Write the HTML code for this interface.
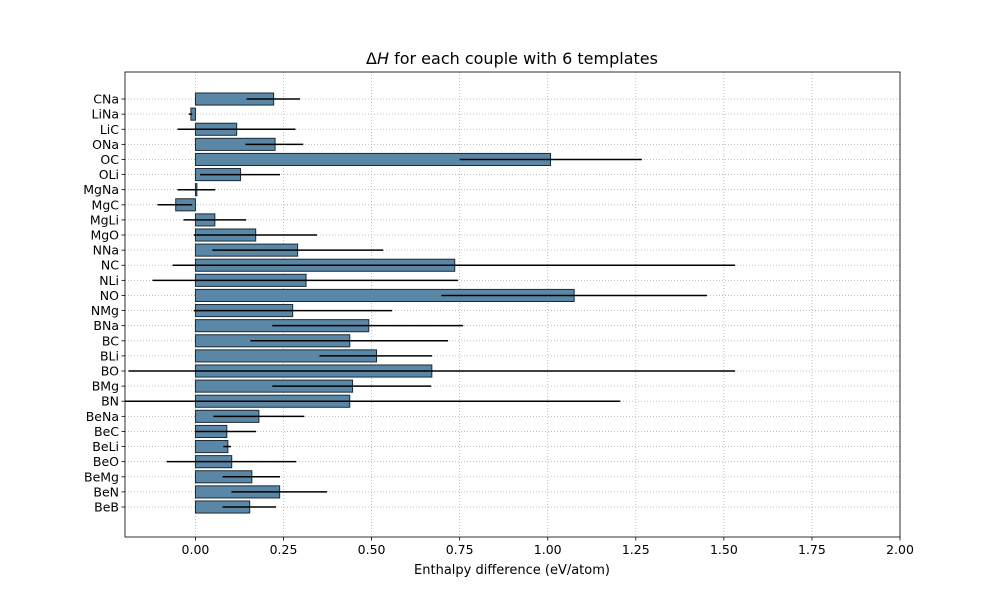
<!DOCTYPE html>
<html><head><meta charset="utf-8"><style>
body{margin:0;background:#fff;font-family:"Liberation Sans","DejaVu Sans",sans-serif;}
svg text{font-family:"DejaVu Sans","Liberation Sans",sans-serif;}
</style></head><body>
<svg id="chart" width="1000" height="600" xmlns="http://www.w3.org/2000/svg">
<rect width="1000" height="600" fill="#fff"/>
<g id="grid"></g>
<g id="bars"></g>
<g id="errs"></g>
<g id="axes"></g>
<text x="512" y="64" font-size="16" text-anchor="middle">Δ<tspan font-style="italic">H</tspan> for each couple with 6 templates</text>
<text x="512" y="574" font-size="13" text-anchor="middle">Enthalpy difference (eV/atom)</text>
</svg>
<script>
const categories=["BeB","BeN","BeMg","BeO","BeLi","BeC","BeNa","BN","BMg","BO","BLi","BC","BNa","NMg","NO","NLi","NC","NNa","MgO","MgLi","MgC","MgNa","OLi","OC","ONa","LiC","LiNa","CNa"];
const values=[0.154,0.239,0.160,0.103,0.092,0.089,0.180,0.438,0.446,0.671,0.514,0.438,0.492,0.276,1.075,0.314,0.736,0.290,0.171,0.055,-0.056,0.004,0.128,1.008,0.226,0.117,-0.013,0.222];
const errLow=[0.077,0.102,0.077,-0.082,0.079,0.000,0.051,-0.207,0.218,-0.190,0.352,0.156,0.218,-0.005,0.698,-0.122,-0.065,0.048,-0.005,-0.034,-0.108,-0.051,0.013,0.750,0.142,-0.051,-0.019,0.145];
const errHigh=[0.229,0.374,0.240,0.286,0.101,0.172,0.309,1.206,0.669,1.532,0.672,0.717,0.760,0.558,1.452,0.745,1.532,0.533,0.345,0.144,-0.009,0.056,0.240,1.267,0.306,0.284,-0.009,0.297];
const xTicks=[0,0.25,0.5,0.75,1.0,1.25,1.5,1.75,2.0];
const xTickLabels=["0.00","0.25","0.50","0.75","1.00","1.25","1.50","1.75","2.00"];
const NS="http://www.w3.org/2000/svg";
const L=125,R=900,T=72,B=537,XMIN=-0.2,XMAX=2.0;
const xs=v=>L+(v-XMIN)/(XMAX-XMIN)*(R-L);
const step=15.11;
const ys=i=>507-step*i;
function mk(p,tag,a){const e=document.createElementNS(NS,tag);for(const k in a)e.setAttribute(k,a[k]);p.appendChild(e);return e;}
const grid=document.getElementById('grid'),bars=document.getElementById('bars'),errs=document.getElementById('errs'),axes=document.getElementById('axes');
xTicks.forEach((t,i)=>{const x=xs(t);
 const g=mk(grid,'line',{x1:x,x2:x,y1:T,y2:B,stroke:'#b0b0b0','stroke-width':0.8,'stroke-dasharray':'1,2'});
 
 mk(axes,'line',{x1:x,x2:x,y1:B,y2:B+3.5,stroke:'#000','stroke-width':0.8});
 const tx=mk(axes,'text',{x:x,y:B+17,'font-size':12.5,'text-anchor':'middle'});tx.textContent=xTickLabels[i];
 
});
categories.forEach((c,i)=>{const y=ys(i);
 const g=mk(grid,'line',{x1:L,x2:R,y1:y,y2:y,stroke:'#b0b0b0','stroke-width':0.8,'stroke-dasharray':'1,2'});
 
 mk(axes,'line',{x1:L-3.5,x2:L,y1:y,y2:y,stroke:'#000','stroke-width':0.8});
 const tx=mk(axes,'text',{x:L-6,y:y+4.5,'font-size':12.5,'text-anchor':'end'});tx.textContent=c;
 
 const x0=xs(0),x1=xs(values[i]);const h=step*0.8;
 const r=mk(bars,'rect',{x:Math.min(x0,x1),y:y-h/2,width:Math.max(Math.abs(x1-x0),0.5),height:h,fill:'#5b87a6',stroke:'#1a2a35','stroke-width':1});
 
 const e=mk(errs,'line',{x1:xs(errLow[i]),x2:xs(errHigh[i]),y1:y,y2:y,stroke:'#000','stroke-width':1.5});
 
});
const fr=mk(axes,'rect',{x:L,y:T,width:R-L,height:B-T,fill:'none',stroke:'#000','stroke-width':0.8});

const cp=mk(document.getElementById('chart'),'clipPath',{id:'cp'});mk(cp,'rect',{x:L,y:T,width:R-L,height:B-T});
errs.setAttribute('clip-path','url(#cp)');
</script>
</body></html>
